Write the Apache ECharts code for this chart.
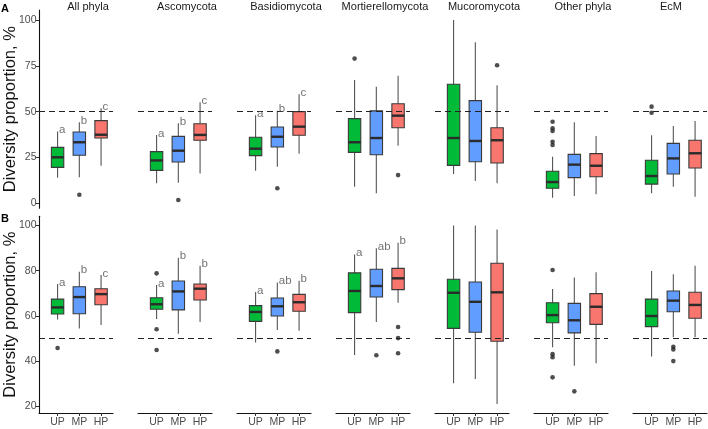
<!DOCTYPE html>
<html>
<head>
<meta charset="utf-8">
<script src="https://cdn.jsdelivr.net/npm/echarts@6/dist/echarts.min.js"></script>
<style>html,body{margin:0;padding:0;background:#fff}#c{width:708px;height:429px}</style>
</head>
<body>
<div id="c"></div>
<script>
// ---------- DATA ----------
const facets = ['All phyla','Ascomycota','Basidiomycota','Mortierellomycota','Mucoromycota','Other phyla','EcM'];
const groups = ['UP','MP','HP'];
const yTicksA = [0,25,50,75,100];
const yTicksB = [20,40,60,80,100];
const refLine = 50;

// [min (lower whisker), Q1, median, Q3, max (upper whisker)] per facet
const boxA_UP = [[14.0,19.6,25.1,30.5,39.1],[10.9,18.0,23.4,28.2,37.3],[17.8,26.0,29.8,36.0,48.0],[9.1,27.8,33.3,46.2,67.3],[16.0,20.7,35.6,64.9,100],[3.1,8.2,11.6,17.5,25.4],[5.5,10.5,14.9,23.5,37.1]];
const boxA_MP = [[14.2,26.2,33.3,38.9,44.2],[11.2,22.5,28.7,36.5,43.6],[20.0,30.7,36.3,41.6,50.5],[5.5,26.5,35.6,50.4,63.6],[12.2,22.7,34.0,56.0,87.8],[4.0,14.0,21.1,26.7,44.2],[9.1,16.0,24.5,32.7,42.2]];
const boxA_HP = [[20.5,35.6,37.4,45.1,51.8],[16.3,34.4,37.3,43.4,55.1],[27.1,37.1,41.8,50.0,59.5],[31.4,41.2,47.8,54.3,69.6],[10.9,22.0,34.4,41.2,64.4],[4.9,14.5,20.5,27.1,36.7],[3.6,19.3,27.3,34.4,44.9]];

const boxB_UP = [[58.4,60.8,63.7,67.4,74.1],[58.6,62.9,65.1,68.0,73.6],[48.1,57.5,61.7,64.5,70.5],[42.6,61.4,71.0,79.0,87.2],[30.1,54.4,70.2,76.2,100],[46.0,56.9,60.3,65.8,71.9],[41.9,55.2,59.9,67.4,79.8]];
const boxB_MP = [[54.4,60.9,68.3,72.9,79.5],[52.0,62.6,70.8,75.4,85.7],[53.7,59.9,64.2,67.9,74.7],[57.2,68.3,73.2,80.6,89.9],[32.0,52.7,66.2,75.0,100],[37.9,52.4,58.0,65.5,77.0],[50.5,61.8,66.7,71.0,78.4]];
const boxB_HP = [[55.9,64.9,69.6,72.0,78.1],[57.2,67.0,72.0,74.1,82.2],[53.4,62.0,66.0,69.5,75.5],[65.8,71.6,76.6,81.0,92.4],[20.9,48.7,70.4,83.3,98.3],[38.9,56.2,64.0,69.8,79.3],[50.5,58.9,64.8,70.4,82.2]];

// outliers: [facet index, group index (1=UP,2=MP,3=HP), value]
const outA = [[0,2,4.7],[1,2,1.8],[2,2,8.2],[3,1,78.9],[3,3,15.4],[4,3,75.3],[5,1,44.5],[5,1,40.9],[5,1,39.4],[5,1,33.6],[5,1,31.8],[6,1,52.7],[6,1,49.4]];
const outB = [[0,1,45.7],[1,1,78.8],[1,1,54.0],[1,1,44.8],[2,2,44.2],[3,2,42.5],[3,3,55.0],[3,3,50.1],[3,3,43.4],[5,1,80.3],[5,1,43.0],[5,1,41.6],[5,1,32.7],[5,2,26.5],[6,2,46.3],[6,2,45.1],[6,2,39.9]];

// significance letters per facet (null = none)
const lettersA = [['a','b','c'],['a','b','c'],['a','b','c'],null,null,null,null];
const lettersB = [['a','b','c'],['a','b','b'],['a','ab','b'],['a','ab','b'],null,null,null];

// ---------- STYLE / LAYOUT ----------
const groupColors = ['#00BA38','#619CFF','#F8766D'];
const FONT = 'Liberation Sans, Arial, Helvetica, sans-serif';
const BOX_W = 0.57;
const X_MIN = 0.146, X_MAX = 3.548;
const rows = [
  {key:'A', top:10, height:198.3, min:-2.7, max:105.4, ticks:yTicksA, boxes:[boxA_UP,boxA_MP,boxA_HP], out:outA, letters:lettersA, showX:false},
  {key:'B', top:216.3, height:196.7, min:16.9, max:104.1, ticks:yTicksB, boxes:[boxB_UP,boxB_MP,boxB_HP], out:outB, letters:lettersB, showX:true}
];
const panelLeft = c => 39 + 99*c;
const PANEL_W = 74;

function renderBox(params, api) {
  const x = api.value(0);
  const lo = api.coord([x, api.value(1)]);
  const q1 = api.coord([x, api.value(2)]);
  const md = api.coord([x, api.value(3)]);
  const q3 = api.coord([x, api.value(4)]);
  const hi = api.coord([x, api.value(5)]);
  const w = api.size([BOX_W, 0])[0];
  const color = groupColors[Math.round(x) - 1];
  return {
    type: 'group',
    children: [
      {type:'line', shape:{x1:lo[0], y1:lo[1], x2:hi[0], y2:hi[1]}, style:{stroke:'#555', lineWidth:1.1}},
      {type:'rect', shape:{x:lo[0]-w/2, y:q3[1], width:w, height:q1[1]-q3[1]}, style:{fill:color, stroke:'#3a3a3a', lineWidth:1.1}},
      {type:'line', shape:{x1:lo[0]-w/2, y1:md[1], x2:lo[0]+w/2, y2:md[1]}, style:{stroke:'#2b2b2b', lineWidth:2.4}}
    ]
  };
}

const grid = [], xAxis = [], yAxis = [], series = [], graphic = [];
let gi = 0;
rows.forEach((row, r) => {
  facets.forEach((name, c) => {
    grid.push({left: panelLeft(c), top: row.top, width: PANEL_W, height: row.height, containLabel: false});
    xAxis.push({
      gridIndex: gi, type: 'value', min: X_MIN, max: X_MAX,
      show: row.showX,
      splitLine: {show: false},
      axisLine: {show: true, lineStyle: {color: '#111', width: 1.1}},
      axisTick: {show: true, length: 3, customValues: [1,2,3], lineStyle: {color: '#333', width: 1}},
      axisLabel: {show: true, customValues: [1,2,3], margin: 4, color: '#4d4d4d', fontSize: 10.5, fontFamily: FONT,
        formatter: v => groups[Math.round(v) - 1] || ''}
    });
    yAxis.push({
      gridIndex: gi, type: 'value', min: row.min, max: row.max,
      show: c === 0,
      splitLine: {show: false},
      axisLine: {show: true, lineStyle: {color: '#111', width: 1.1}},
      axisTick: {show: true, length: 3.5, customValues: row.ticks, lineStyle: {color: '#333', width: 1}},
      axisLabel: {show: true, customValues: row.ticks, margin: 2.5, color: '#4d4d4d', fontSize: 10.5, fontFamily: FONT}
    });
    // boxes
    const boxData = row.boxes.map((arr, g) => [g + 1].concat(arr[c]));
    series.push({
      type: 'custom', xAxisIndex: gi, yAxisIndex: gi, z: 2,
      renderItem: renderBox,
      encode: {x: 0, y: [1,2,3,4,5]},
      data: boxData, silent: true
    });
    // outliers + reference dashed line
    const outData = row.out.filter(o => o[0] === c).map(o => [o[1], o[2]]);
    series.push({
      type: 'scatter', xAxisIndex: gi, yAxisIndex: gi, z: 5,
      symbolSize: 4.6, itemStyle: {color: '#222'}, silent: true,
      data: outData,
      markLine: {
        silent: true, symbol: ['none','none'], label: {show: false},
        lineStyle: {type: [6,4], color: '#222', width: 1.1},
        emphasis: {disabled: true},
        data: [{yAxis: refLine}]
      }
    });
    // letters
    const lt = row.letters[c];
    if (lt) {
      series.push({
        type: 'scatter', xAxisIndex: gi, yAxisIndex: gi, z: 6,
        symbolSize: 1, itemStyle: {color: 'rgba(0,0,0,0)'}, silent: true,
        data: lt.map((s, g) => ({value: [g + 1, row.boxes[g][c][4]], letter: s})),
        label: {show: true, position: 'right', distance: 1, offset: [0, -1.5],
          formatter: p => p.data.letter, color: '#4d4d4d', fontSize: 11.5, fontFamily: FONT}
      });
    }
    gi++;
  });
  // facet strip titles (top row only)
  if (r === 0) {
    facets.forEach((name, c) => {
      graphic.push({type: 'text', x: Math.min(panelLeft(c) + 49, 671), y: 7,
        style: {text: name, align: 'center', verticalAlign: 'middle', fill: '#1a1a1a', fontSize: 11, fontFamily: FONT}});
    });
  }
  // y title
  graphic.push({type: 'text', x: 10, y: row.top + row.height/2, rotation: Math.PI/2,
    style: {text: 'Diversity proportion, %', align: 'center', verticalAlign: 'middle', fill: '#111', fontSize: 16.5, fontFamily: FONT}});
  // panel tag
  graphic.push({type: 'text', x: 1, y: r === 0 ? 8.5 : 219,
    style: {text: row.key, align: 'left', verticalAlign: 'middle', fill: '#000', fontSize: 11, fontWeight: 'bold', fontFamily: FONT}});
});

const chart = echarts.init(document.getElementById('c'), null, {renderer: 'canvas'});
chart.setOption({
  animation: false,
  backgroundColor: '#fff',
  grid, xAxis, yAxis, series, graphic
});
</script>
</body>
</html>
